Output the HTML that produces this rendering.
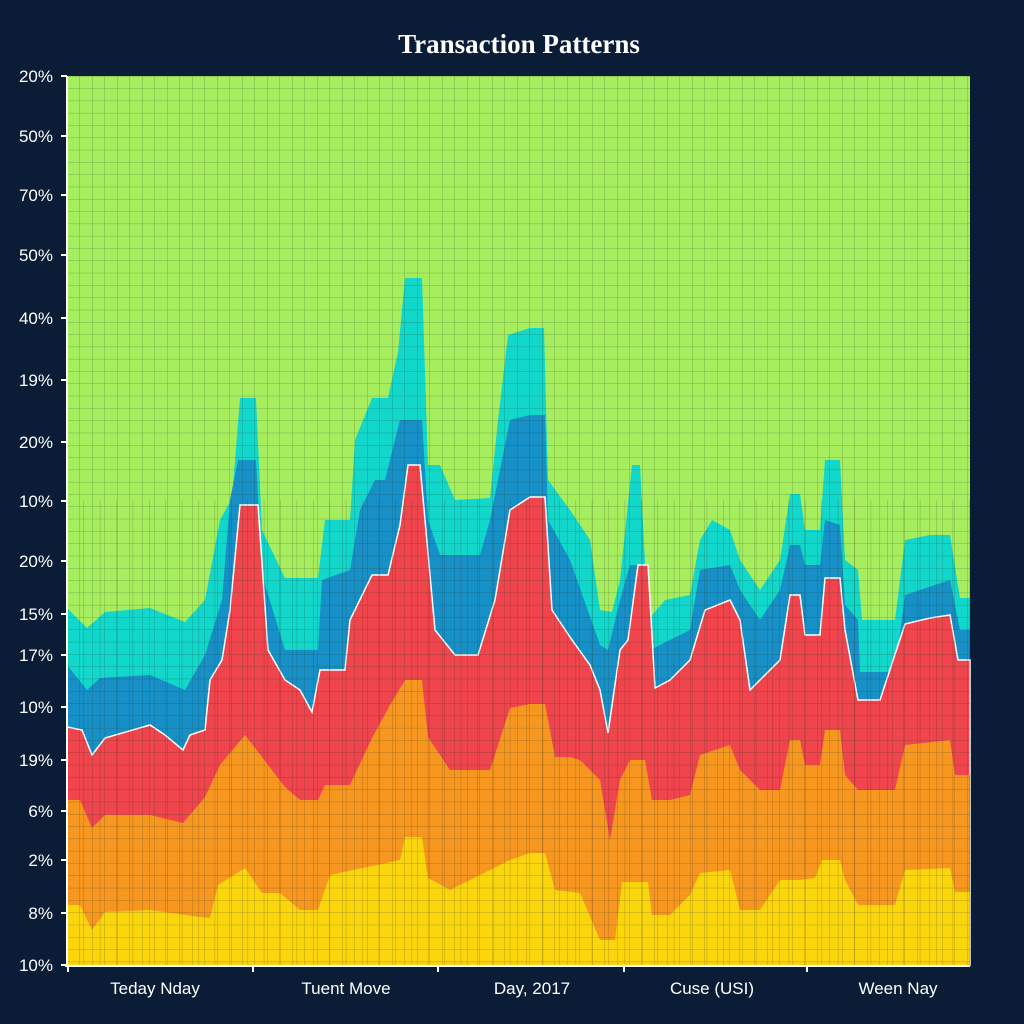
<!DOCTYPE html>
<html><head><meta charset="utf-8"><style>
html,body{margin:0;padding:0;background:#0b1c36;}
svg{display:block}
</style></head><body>
<svg width="1024" height="1024" viewBox="0 0 1024 1024" xmlns="http://www.w3.org/2000/svg">
<defs>
<pattern id="g" x="67" y="76" width="12.5" height="12.3" patternUnits="userSpaceOnUse">
<path d="M0 0V12.3M0 0H12.5" stroke="#1d3a2a" stroke-opacity="0.35" stroke-width="1" fill="none"/>
</pattern>
<pattern id="v" x="67" y="0" width="16.4" height="10" patternUnits="userSpaceOnUse">
<path d="M0 0V10" stroke="#3a1a10" stroke-opacity="0.45" stroke-width="1.2"/>
</pattern>
</defs>
<rect width="1024" height="1024" fill="#0b1c36"/>
<text x="519" y="53" text-anchor="middle" font-family="Liberation Serif, serif" font-weight="bold" font-size="27" fill="#fff">Transaction Patterns</text>
<rect x="67" y="76" width="903" height="889" fill="#a7ee5f"/>
<polygon fill="#12d7cb" points="67,608 87,628 105,612 150,608 185,622 205,600 220,520 232,498 240,398 256,398 262,530 285,578 318,578 325,520 350,520 355,440 372,398 388,398 398,352 405,278 422,278 428,465 440,465 455,500 490,498 498,420 508,335 530,328 544,328 548,480 570,510 590,540 600,610 612,612 620,580 632,465 640,465 648,620 665,600 690,595 700,540 712,520 730,530 740,560 760,590 780,560 790,494 800,494 805,530 820,530 825,460 840,460 845,560 858,570 862,620 895,620 905,540 930,535 950,535 960,598 970,598 970,965 67,965"/>
<polygon fill="#1690c6" points="67,665 87,690 100,678 150,675 185,690 205,655 222,600 230,500 238,460 256,460 262,575 285,650 318,650 322,580 350,570 360,510 375,480 385,480 400,420 422,420 428,520 440,555 480,555 490,520 510,420 530,415 545,415 548,520 570,560 600,645 608,650 620,600 630,565 642,565 650,650 670,640 690,630 700,570 730,565 740,590 760,620 780,590 790,545 800,545 805,565 820,565 825,520 840,525 845,605 858,620 860,672 895,672 905,595 935,585 950,580 960,630 970,630 970,965 67,965"/>
<polygon fill="#f0454c" stroke="#fff" stroke-width="1.5" points="67,727 82,730 92,755 105,738 150,725 165,735 183,750 190,735 205,730 210,680 222,660 230,610 240,505 258,505 268,650 285,680 300,690 312,712 320,670 345,670 350,620 372,575 388,575 400,525 408,465 420,465 435,630 455,655 478,655 495,600 510,510 530,497 545,497 552,610 572,640 590,665 600,690 608,733 620,650 628,640 638,565 648,565 655,688 670,680 690,660 705,610 730,600 740,620 750,690 760,680 770,670 780,660 790,595 800,595 805,635 820,635 825,578 840,578 845,630 858,700 880,700 905,624 930,618 950,615 958,660 970,660 970,965 67,965"/>
<polygon fill="#f7971f" points="67,800 80,800 92,828 105,815 150,815 183,823 205,797 220,765 245,735 262,757 285,787 300,800 318,800 325,785 350,785 372,738 390,705 405,680 422,680 428,737 450,770 490,770 510,708 530,704 545,704 555,757 570,757 580,760 600,780 610,840 620,780 630,760 645,760 652,800 670,800 690,795 700,755 730,745 740,770 760,790 780,790 790,740 800,740 805,765 820,765 825,730 840,730 845,775 858,790 895,790 905,745 950,740 955,775 970,775 970,965 67,965"/>
<polygon fill="#fcd60c" points="67,905 80,905 92,930 105,912 150,910 200,917 210,918 218,885 245,868 262,893 280,893 300,910 318,910 330,875 400,860 405,837 422,837 428,878 450,890 510,860 530,853 545,853 555,890 580,893 600,940 615,940 622,882 648,882 652,915 670,915 690,895 700,873 730,870 740,910 760,910 780,880 800,880 815,878 822,860 840,860 845,880 858,905 895,905 905,870 950,868 955,892 970,892 970,965 67,965"/>
<rect x="67" y="76" width="903" height="889" fill="url(#g)"/>
<rect x="67" y="500" width="903" height="465" fill="url(#v)" opacity="0.6"/>
<line x1="67" y1="76" x2="67" y2="967" stroke="#fff" stroke-width="2"/>
<line x1="65" y1="966" x2="970" y2="966" stroke="#fff" stroke-width="2"/>
<g stroke="#fff" stroke-width="2">
<line x1="61" y1="76" x2="67" y2="76"/><line x1="61" y1="136" x2="67" y2="136"/><line x1="61" y1="195" x2="67" y2="195"/><line x1="61" y1="255" x2="67" y2="255"/><line x1="61" y1="318" x2="67" y2="318"/><line x1="61" y1="380" x2="67" y2="380"/><line x1="61" y1="442" x2="67" y2="442"/><line x1="61" y1="501" x2="67" y2="501"/><line x1="61" y1="561" x2="67" y2="561"/><line x1="61" y1="614" x2="67" y2="614"/><line x1="61" y1="655" x2="67" y2="655"/><line x1="61" y1="707" x2="67" y2="707"/><line x1="61" y1="760" x2="67" y2="760"/><line x1="61" y1="811" x2="67" y2="811"/><line x1="61" y1="860" x2="67" y2="860"/><line x1="61" y1="913" x2="67" y2="913"/><line x1="61" y1="965" x2="67" y2="965"/>
<line x1="68" y1="966" x2="68" y2="972"/><line x1="253" y1="966" x2="253" y2="972"/><line x1="438" y1="966" x2="438" y2="972"/><line x1="624" y1="966" x2="624" y2="972"/><line x1="807" y1="966" x2="807" y2="972"/>
</g>
<g font-family="Liberation Sans, sans-serif" font-size="17" fill="#fff" text-anchor="end">
<text x="53" y="82">20%</text><text x="53" y="142">50%</text><text x="53" y="201">70%</text><text x="53" y="261">50%</text><text x="53" y="324">40%</text><text x="53" y="386">19%</text><text x="53" y="448">20%</text><text x="53" y="507">10%</text><text x="53" y="567">20%</text><text x="53" y="620">15%</text><text x="53" y="661">17%</text><text x="53" y="713">10%</text><text x="53" y="766">19%</text><text x="53" y="817">6%</text><text x="53" y="866">2%</text><text x="53" y="919">8%</text><text x="53" y="971">10%</text>
</g>
<g font-family="Liberation Sans, sans-serif" font-size="17" fill="#fff" text-anchor="middle">
<text x="155" y="994">Teday Nday</text><text x="346" y="994">Tuent Move</text><text x="532" y="994">Day, 2017</text><text x="712" y="994">Cuse (USI)</text><text x="898" y="994">Ween Nay</text>
</g>
</svg>
</body></html>
